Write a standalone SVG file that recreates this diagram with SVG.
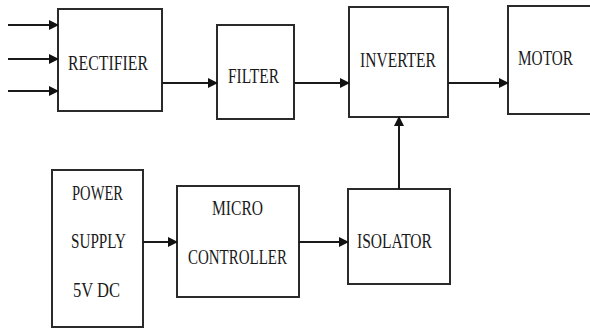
<svg xmlns="http://www.w3.org/2000/svg" width="590" height="331" viewBox="0 0 590 331">
  <style>
    .box { fill: #ffffff; stroke: #2a2a2a; stroke-width: 2; }
    .wire { fill: none; stroke: #1a1a1a; stroke-width: 2; }
    .lbl { font-family: "Liberation Serif", "DejaVu Serif", "Times New Roman", serif; font-size: 22px; fill: #1a1a1a; }
  </style>
  <defs>
    <marker id="arrow" markerUnits="userSpaceOnUse" markerWidth="10" markerHeight="10" refX="9" refY="5" orient="auto">
      <path d="M0,0 L10,5 L0,10 z" fill="#111111"/>
    </marker>
  </defs>
  <rect width="590" height="331" fill="#ffffff"/>

  <g id="rectifier">
    <rect class="box" x="58" y="9" width="104" height="102"/>
    <text class="lbl" x="68" y="70" textLength="80" lengthAdjust="spacingAndGlyphs">RECTIFIER</text>
  </g>
  <g id="filter">
    <rect class="box" x="217" y="25" width="77" height="94"/>
    <text class="lbl" x="228" y="83" textLength="51" lengthAdjust="spacingAndGlyphs">FILTER</text>
  </g>
  <g id="inverter">
    <rect class="box" x="349" y="7" width="99" height="110"/>
    <text class="lbl" x="360" y="67" textLength="76" lengthAdjust="spacingAndGlyphs">INVERTER</text>
  </g>
  <g id="motor">
    <!-- right side of this block runs past the canvas edge -->
    <path class="box" d="M592,6 H508 V114 H592"/>
    <text class="lbl" x="518" y="65" textLength="55" lengthAdjust="spacingAndGlyphs">MOTOR</text>
  </g>
  <g id="power-supply">
    <rect class="box" x="52" y="170" width="91" height="157"/>
    <text class="lbl" x="72" y="200" textLength="51" lengthAdjust="spacingAndGlyphs">POWER</text>
    <text class="lbl" x="71" y="248" textLength="55" lengthAdjust="spacingAndGlyphs">SUPPLY</text>
    <text class="lbl" x="73" y="297" textLength="47" lengthAdjust="spacingAndGlyphs">5V DC</text>
  </g>
  <g id="microcontroller">
    <rect class="box" x="177" y="186" width="122" height="111"/>
    <text class="lbl" x="212" y="215" textLength="51" lengthAdjust="spacingAndGlyphs">MICRO</text>
    <text class="lbl" x="188" y="264" textLength="99" lengthAdjust="spacingAndGlyphs">CONTROLLER</text>
  </g>
  <g id="isolator">
    <rect class="box" x="348" y="189" width="102" height="95"/>
    <text class="lbl" x="357" y="248" textLength="75" lengthAdjust="spacingAndGlyphs">ISOLATOR</text>
  </g>

  <g id="connectors">
    <line class="wire" x1="8" y1="25" x2="58" y2="25" marker-end="url(#arrow)"/>
    <line class="wire" x1="8" y1="59" x2="58" y2="59" marker-end="url(#arrow)"/>
    <line class="wire" x1="8" y1="91" x2="58" y2="91" marker-end="url(#arrow)"/>
    <line class="wire" x1="162" y1="83" x2="217" y2="83" marker-end="url(#arrow)"/>
    <line class="wire" x1="294" y1="83" x2="349" y2="83" marker-end="url(#arrow)"/>
    <line class="wire" x1="448" y1="83" x2="508" y2="83" marker-end="url(#arrow)"/>
    <line class="wire" x1="399" y1="189" x2="399" y2="117" marker-end="url(#arrow)"/>
    <line class="wire" x1="143" y1="242" x2="177" y2="242" marker-end="url(#arrow)"/>
    <line class="wire" x1="299" y1="242" x2="348" y2="242" marker-end="url(#arrow)"/>
  </g>
</svg>
